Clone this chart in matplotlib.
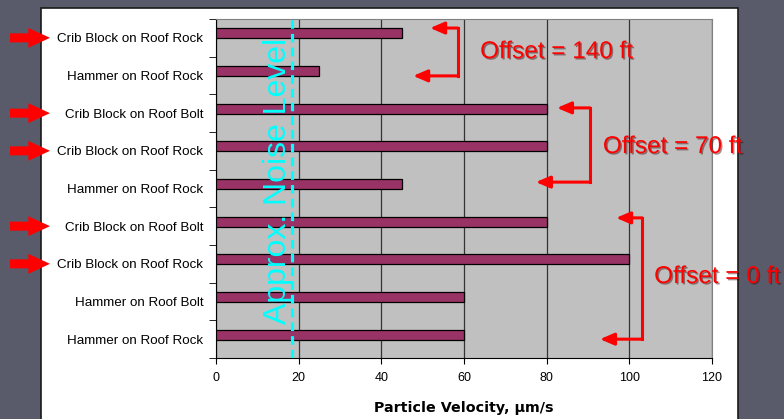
import numpy as np
import matplotlib
matplotlib.use("Agg")
import matplotlib.pyplot as plt
import matplotlib.patheffects as pe
from matplotlib.patches import Rectangle

plt.rcParams['font.family'] = ['Liberation Sans', 'DejaVu Sans']

# categories, bottom to top as drawn
labels = ["Hammer on Roof Rock", "Hammer on Roof Bolt", "Crib Block on Roof Rock",
          "Crib Block on Roof Bolt", "Hammer on Roof Rock", "Crib Block on Roof Rock",
          "Crib Block on Roof Bolt", "Hammer on Roof Rock", "Crib Block on Roof Rock"]
velocity = [60, 60, 100, 80, 45, 80, 80, 25, 45]
noise_level = 18.5
xticks = [0, 20, 40, 60, 80, 100, 120]

# offset groups: (text, bottom category, top category)
groups = [("Offset = 0 ft", 0, 3), ("Offset = 70 ft", 4, 6), ("Offset = 140 ft", 7, 8)]

W, H = 784, 419
fig = plt.figure(figsize=(W / 100, H / 100), dpi=100)
fig.patch.set_facecolor('#595b6b')
fig.patches.append(Rectangle((41 / W, -0.1), (738 - 41) / W, 1.1 - 8 / H,
                             transform=fig.transFigure, facecolor='white',
                             edgecolor='#1a1a1a', lw=1.2, zorder=-5))

ax = fig.add_axes([216 / W, 1 - 358 / H, 496 / W, 339 / H])
ax.set_zorder(2)
ax.set_facecolor('#c0c0c0')
pos = np.arange(len(labels))
ax.barh(pos + 0.12, velocity, height=0.26, color='#993366', edgecolor='black',
        lw=0.9, zorder=3)

ax.set_xlim(0, 120)
ax.set_ylim(-0.5, len(labels) - 0.5)
ax.set_xticks(xticks)
ax.tick_params(axis='x', labelsize=9, length=4, pad=6, direction='out')
ax.set_yticks(pos)
ax.set_yticklabels(labels, fontsize=9.6)
ax.set_yticks(np.arange(-0.5, len(labels)), minor=True)
ax.tick_params(axis='y', which='major', length=0, pad=9)
ax.tick_params(axis='y', which='minor', length=5, direction='out')
ax.grid(axis='x', color='#333333', lw=0.9, zorder=1)
ax.set_axisbelow(True)
for s in ['top', 'right']:
    ax.spines[s].set_color('#808080')
for s in ['left', 'bottom']:
    ax.spines[s].set_color('black')
ax.set_xlabel("Particle Velocity, \u03bcm/s", fontsize=10.3, fontweight='bold',
              family='DejaVu Sans', labelpad=12)

# noise level
ax.axvline(noise_level, color='#00ffff', lw=2.3, ls=(0, (2.7, 1.6)), zorder=5)
ax.text(noise_level - 3.6, 4.2, "Approx. Noise Level", rotation=90, color='#00ffff',
        fontsize=23, ha='center', va='center', zorder=6)

# offset brackets
red = '#ff0000'
shadow = [pe.withSimplePatchShadow(offset=(1, -1), shadow_rgbFace='#400000', alpha=0.45)]
brackets = {
    "Offset = 0 ft": dict(top=(96.8, 3.22), bot=(92.9, 0.0), cx=103.1, tx=106.0, ty=1.65),
    "Offset = 70 ft": dict(top=(82.5, 6.14), bot=(77.4, 4.17), cx=90.5, tx=93.6, ty=5.10),
    "Offset = 140 ft": dict(top=(51.8, 8.26), bot=(47.7, 6.99), cx=58.5, tx=63.9, ty=7.62),
}
for name, lo, hi in groups:
    b = brackets[name]
    cx = b['cx']
    ax.plot([cx, cx], [b['bot'][1], b['top'][1]], color=red, lw=2.2,
            solid_capstyle='projecting', clip_on=False, zorder=7)
    for tip in (b['top'], b['bot']):
        ax.annotate('', xy=tip, xytext=(cx, tip[1]), annotation_clip=False,
                    arrowprops=dict(arrowstyle='-|>,head_length=0.7,head_width=0.3',
                                    color=red, lw=2.2, mutation_scale=12,
                                    shrinkA=0, shrinkB=0), zorder=7)
    ax.text(b['tx'], b['ty'], name, color=red, fontsize=17.5, ha='left', va='center',
            clip_on=False, zorder=8, path_effects=shadow)

# left-hand arrows for crib block tests
for i, lab in enumerate(labels):
    if lab.startswith("Crib"):
        ax.annotate('', xy=(50, i), xytext=(10, i), xycoords=('figure pixels', 'data'),
                    textcoords=('figure pixels', 'data'), annotation_clip=False,
                    arrowprops=dict(arrowstyle='simple,head_length=1.2,head_width=1.1,tail_width=0.5',
                                    color=red, mutation_scale=13, shrinkA=0, shrinkB=0,
                                    lw=0))

fig.savefig("out.png", dpi=100, facecolor=fig.get_facecolor())
